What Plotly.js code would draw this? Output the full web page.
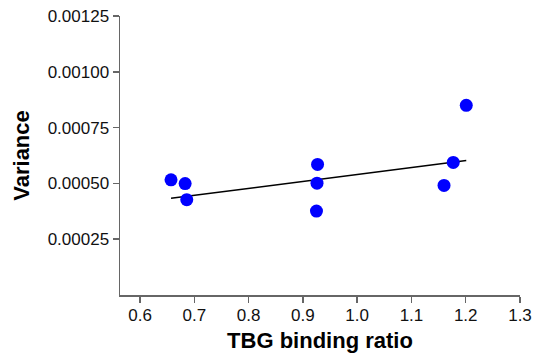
<!DOCTYPE html>
<html>
<head>
<meta charset="utf-8">
<script src="https://cdn.plot.ly/plotly-3.0.1.min.js"></script>
<style>html,body{margin:0;padding:0;background:#fff;}#chart{width:536px;height:354px;}</style>
</head>
<body>
<div id="chart"></div>
<script>
// Data
var tbgRatio = [0.657, 0.683, 0.686, 0.927, 0.926, 0.925, 1.160, 1.177, 1.201];
var variance = [0.000516, 0.000499, 0.000427, 0.000585, 0.000501, 0.000376, 0.000491, 0.000594, 0.000850];
var fitX = [0.657, 1.201];
var fitY = [0.000433, 0.000603];
var xTicks = [0.6, 0.7, 0.8, 0.9, 1.0, 1.1, 1.2, 1.3];
var yTicks = [0.00025, 0.00050, 0.00075, 0.00100, 0.00125];

var font = 'Liberation Sans, Arial, sans-serif';
var traces = [
  {x: fitX, y: fitY, type: 'scatter', mode: 'lines', line: {color: '#000', width: 1.5}, hoverinfo: 'skip'},
  {x: tbgRatio, y: variance, type: 'scatter', mode: 'markers', marker: {color: '#0000ff', size: 13}}
];
var layout = {
  width: 536, height: 354,
  margin: {l: 120, r: 16, t: 16, b: 59},
  showlegend: false,
  paper_bgcolor: '#fff', plot_bgcolor: '#fff',
  font: {family: font, color: '#111', size: 17},
  xaxis: {
    range: [0.563, 1.3], tickvals: xTicks, tickformat: '.1f',
    showline: true, linecolor: '#666', linewidth: 1.5, zeroline: false, showgrid: false,
    ticks: 'outside', ticklen: 6, tickcolor: '#666', tickwidth: 1.5,
    ticklabelstandoff: -2,
    tickfont: {size: 17, family: font, color: '#111'},
    title: {text: '<b>TBG binding ratio</b>', font: {size: 22, family: font, color: '#000'}, standoff: 8}
  },
  yaxis: {
    range: [0, 0.00125], tickvals: yTicks, tickformat: '.5f',
    showline: true, linecolor: '#666', linewidth: 1.5, zeroline: false, showgrid: false,
    ticks: 'outside', ticklen: 6, tickcolor: '#666', tickwidth: 1.5,
    tickfont: {size: 17, family: font, color: '#111'},
    title: {text: '<b>Variance</b>', font: {size: 22, family: font, color: '#000'}, standoff: 12}
  }
};
Plotly.newPlot('chart', traces, layout, {displayModeBar: false, staticPlot: true});
</script>
</body>
</html>
